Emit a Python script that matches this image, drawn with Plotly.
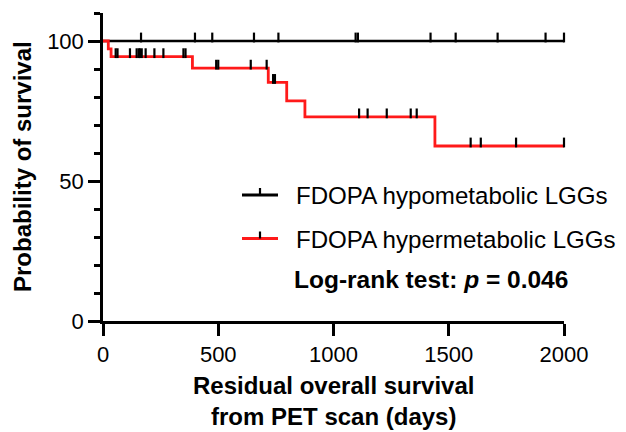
import numpy as np
import plotly.graph_objects as go

# ---------------- data ----------------
hypo_times = [0, 2000]
hypo_surv = [100, 100]
hypo_censor = [165, 399, 474, 655, 761, 1096, 1106, 1421, 1530, 1712, 1920, 2000]

hyper_times = [0, 23, 35, 388, 717, 797, 876, 1440, 2000]
hyper_surv = [100, 97.2, 94.4, 90.3, 85.2, 78.6, 72.9, 62.5, 62.5]
hyper_censor = [55, 63, 117, 146, 155, 160, 168, 185, 223, 262, 349, 358,
                491, 500, 641, 710, 738, 746,
                1111, 1148, 1231, 1335, 1361,
                1595, 1639, 1792, 2000]

series_names = ["FDOPA hypometabolic LGGs", "FDOPA hypermetabolic LGGs"]
x_ticks = [0, 500, 1000, 1500, 2000]
y_ticks = [0, 50, 100]
x_title = "Residual overall survival<br>from PET scan (days)"
y_title = "Probability of survival"
stat_text = "Log-rank test: <i>p</i> = 0.046"

# ---------------- layout constants ----------------
OFF = 8  # page body margin in the browser
W, H = 626 - OFF, 432 - OFF
PL, PT = 103, 13          # plot-area top-left in window pixels
PW, PH = 461, 308
ML, MT = PL - OFF, PT - OFF
MR, MB = W - ML - PW, H - MT - PH
YMAX = 110
FONT = "Liberation Sans, Arial, sans-serif"
TICK_PX = 7
tick_off = (TICK_PX / 2) / (PH / YMAX)


def surv_at(times, surv, t):
    idx = np.searchsorted(np.array(times), np.array(t), side="right") - 1
    return np.array(surv)[idx]


def px2paper(px, py):
    """window pixel -> paper coords"""
    return (px - PL) / PW, (PT + PH - py) / PH


fig = go.Figure()

# curves
fig.add_trace(go.Scatter(x=hypo_times, y=hypo_surv, mode="lines",
                         line=dict(color="black", width=2.5, shape="hv"),
                         showlegend=False, hoverinfo="skip", cliponaxis=False))
fig.add_trace(go.Scatter(x=hyper_times, y=hyper_surv, mode="lines",
                         line=dict(color="#ff1a1a", width=2.8, shape="hv"),
                         showlegend=False, hoverinfo="skip", cliponaxis=False))

# censor marks
for times, surv, cens in [(hypo_times, hypo_surv, hypo_censor),
                          (hyper_times, hyper_surv, hyper_censor)]:
    cy = surv_at(times, surv, cens) + tick_off
    fig.add_trace(go.Scatter(x=cens, y=cy, mode="markers",
                             marker=dict(symbol="line-ns", size=TICK_PX,
                                         line=dict(color="black", width=2.2)),
                             showlegend=False, hoverinfo="skip", cliponaxis=False))

# manual legend
shapes = []
annotations = []
leg_rows = [(195, "black", 2.8), (238.5, "#ff1a1a", 3.0)]
for (py, col, lw), name in zip(leg_rows, series_names):
    x0, y0 = px2paper(242, py)
    x1, _ = px2paper(278, py)
    shapes.append(dict(type="line", xref="paper", yref="paper", x0=x0, x1=x1, y0=y0, y1=y0,
                       line=dict(color=col, width=lw)))
    tx, ty0 = px2paper(260, py)
    _, ty1 = px2paper(260, py - 7)
    shapes.append(dict(type="line", xref="paper", yref="paper", x0=tx, x1=tx, y0=ty0, y1=ty1,
                       line=dict(color="black", width=2.2)))
    ax, ay = px2paper(294, py + 1)
    annotations.append(dict(xref="paper", yref="paper", x=ax, y=ay, text=name,
                            xanchor="left", yanchor="middle", showarrow=False,
                            font=dict(family=FONT, size=24.1, color="black")))

ax, ay = px2paper(292, 279)
annotations.append(dict(xref="paper", yref="paper", x=ax, y=ay, text="<b>" + stat_text + "</b>",
                        xanchor="left", yanchor="middle", showarrow=False,
                        font=dict(family=FONT, size=24.5, color="black")))

# axis titles
ax, ay = px2paper(22, 167)
annotations.append(dict(xref="paper", yref="paper", x=ax, y=ay, text="<b>" + y_title + "</b>",
                        textangle=-90, xanchor="center", yanchor="middle", showarrow=False,
                        font=dict(family=FONT, size=24, color="black")))
ax, ay = px2paper(333, 401)
annotations.append(dict(xref="paper", yref="paper", x=ax, y=ay, text="<b>" + x_title + "</b>",
                        xanchor="center", yanchor="middle", showarrow=False,
                        font=dict(family=FONT, size=24, color="black")))

fig.update_layout(
    width=W, height=H,
    margin=dict(l=ML, r=MR, t=MT, b=MB, pad=0),
    paper_bgcolor="white", plot_bgcolor="white",
    shapes=shapes, annotations=annotations,
    xaxis=dict(range=[0, 2000], tickvals=x_ticks, ticks="outside", ticklen=12, tickwidth=2.5,
               tickcolor="black", showline=True, linecolor="black", linewidth=2.5,
               showgrid=False, zeroline=False,
               tickfont=dict(family=FONT, size=22, color="black"),
               tickprefix="<b>", ticksuffix="</b>"),
    yaxis=dict(range=[0, YMAX], tickvals=y_ticks, ticks="outside", ticklen=12, tickwidth=2.5,
               tickcolor="black", showline=True, linecolor="black", linewidth=2.5,
               showgrid=False, zeroline=False,
               tickfont=dict(family=FONT, size=22, color="black"),
               tickprefix="<b>", ticksuffix="</b>",
               minor=dict(tickvals=list(range(10, YMAX + 1, 10)), ticks="outside", ticklen=6,
                          tickwidth=2.5, tickcolor="black", showgrid=False)),
)

fig.write_html("out.html")
